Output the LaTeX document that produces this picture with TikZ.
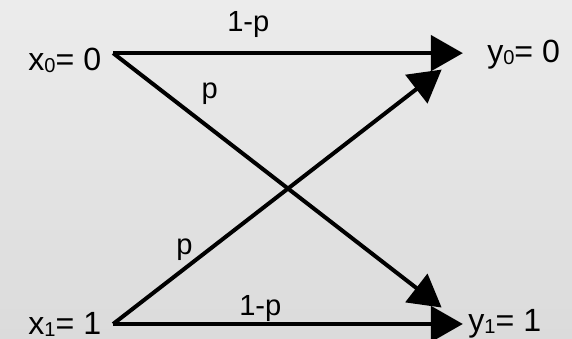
\documentclass[tikz,border=0pt]{standalone}
\usepackage{fontspec}
\setmainfont{Liberation Sans}
\usetikzlibrary{arrows.meta}
\newcommand{\lowidx}[1]{\raisebox{-1pt}{\fontsize{10}{12}\selectfont #1}}
\begin{document}
\begin{tikzpicture}[>={Triangle[length=0.56cm,width=0.62cm]},
    chan/.style={->,line width=0.07cm},
    cross/.style={chan,shorten >=0.47cm},
    sym/.style={inner sep=0pt,anchor=base west,font=\fontsize{16}{19}\selectfont},
    prob/.style={inner sep=0pt,anchor=base west,font=\fontsize{14.5}{17}\selectfont}]
            \definecolor{bgTop}{RGB}{236,236,236}
            \definecolor{bgBot}{RGB}{219,219,219}
            \useasboundingbox (0,0) rectangle (10.01,5.93);
            \shade[top color=bgTop,bottom color=bgBot] (0,0) rectangle (10.01,5.93);
            \coordinate (a0) at (1.98,5.0);
            \coordinate (a1) at (1.98,0.26);
            \coordinate (b0) at (8.10,5.0);
            \coordinate (b1) at (8.10,0.26);
            \node[sym] (x0) at (0.49,4.69) {x\lowidx{0}= 0};
            \node[sym] (x1) at (0.49,0.07) {x\lowidx{1}= 1};
            \node[sym] (y0) at (8.52,4.83) {y\lowidx{0}= 0};
            \node[sym] (y1) at (8.19,0.12) {y\lowidx{1}= 1};
            \draw[chan] (a0) -- (b0);
            \draw[chan] (a1) -- (b1);
            \draw[cross] (a0) -- (b1);
            \draw[cross] (a1) -- (b0);
            \node[prob] (p00) at (3.97,5.37) {1-p};
            \node[prob] (p11) at (4.18,0.40) {1-p};
            \node[prob] (p01) at (3.52,4.20) {p};
            \node[prob] (p10) at (3.08,1.47) {p};
        \end{tikzpicture}
\end{document}
